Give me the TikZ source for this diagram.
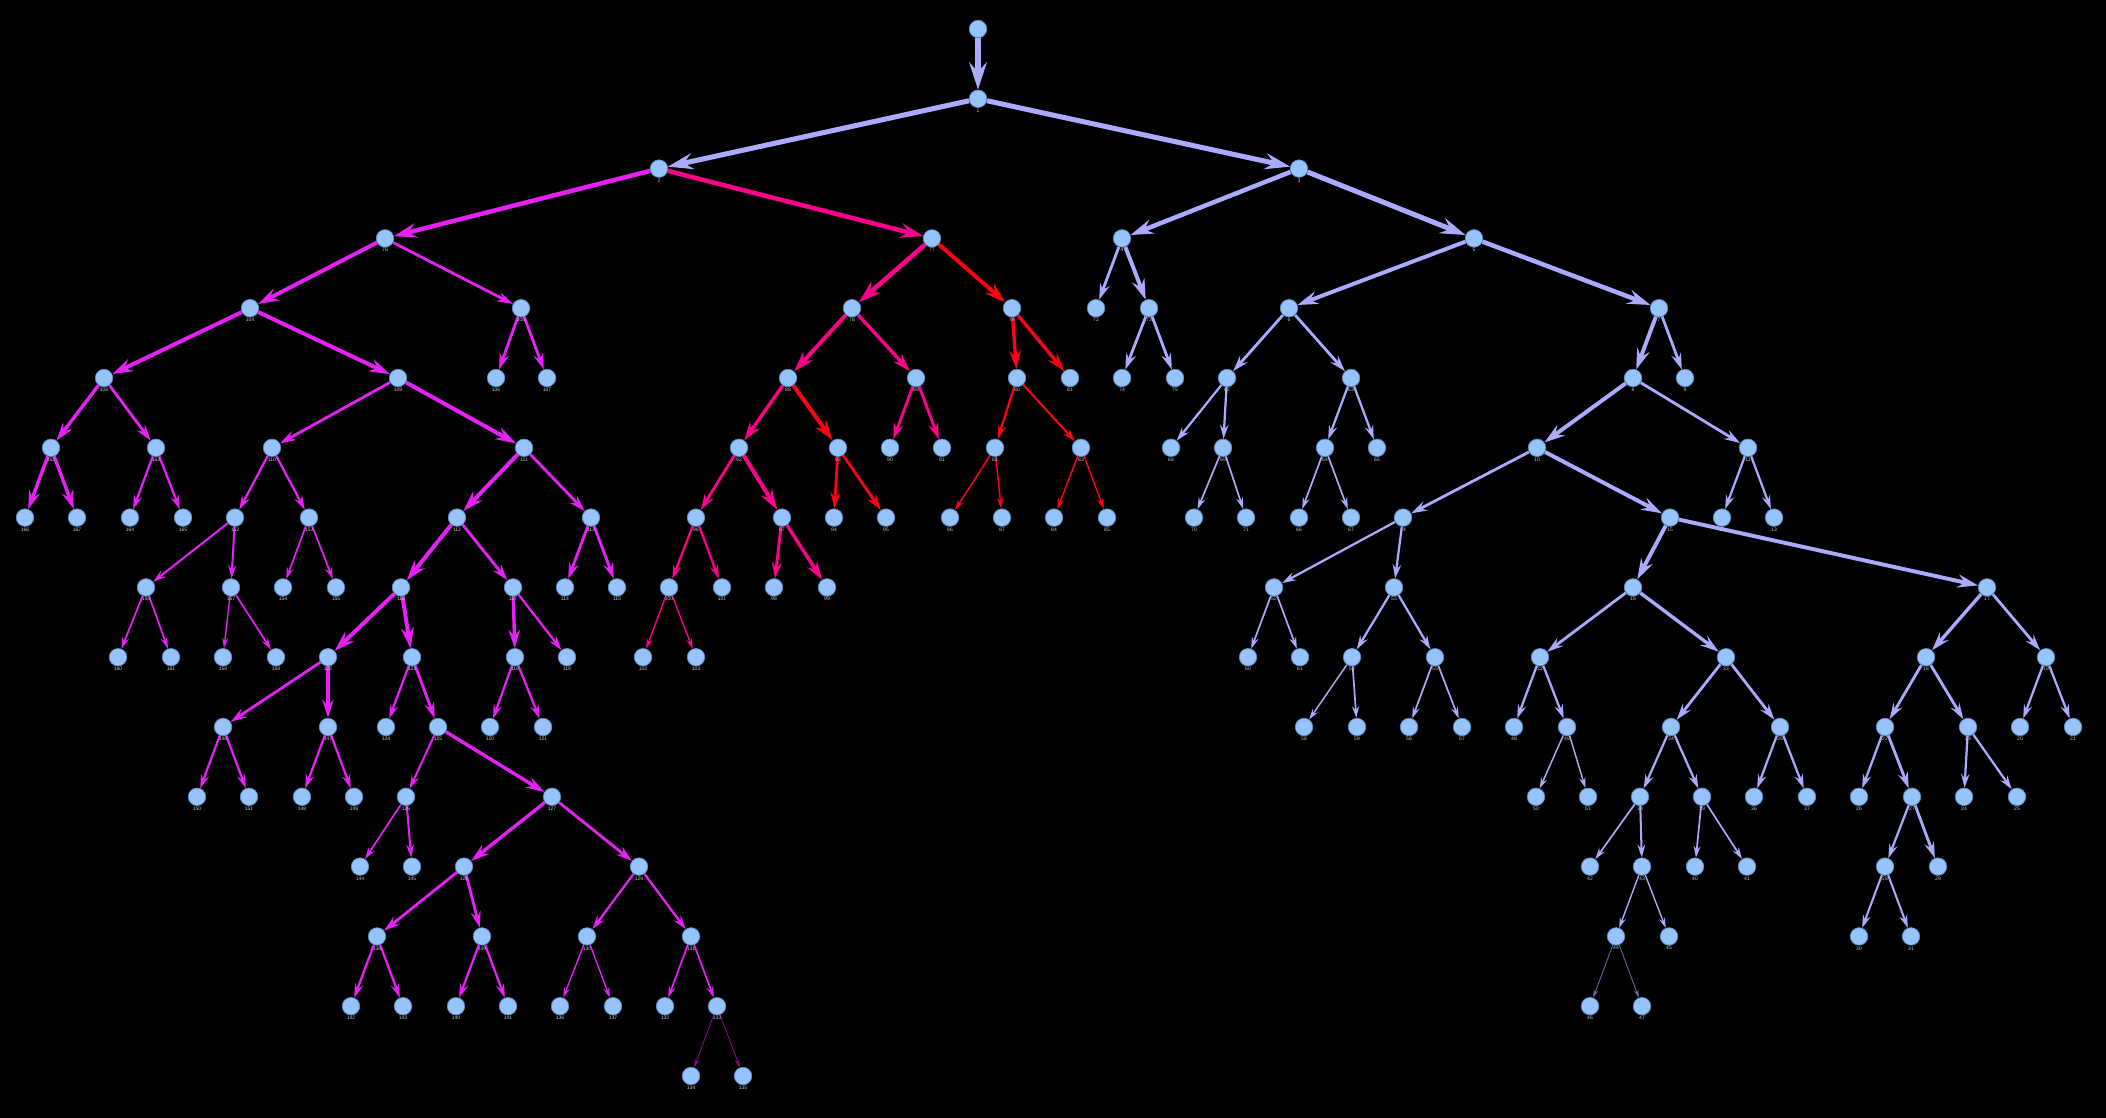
\documentclass[tikz,border=0pt]{standalone}
\usepackage{fontspec}
\newfontfamily\lblfont{Liberation Sans}
\usetikzlibrary{arrows.meta}
\definecolor{cL}{RGB}{170,170,255}
\definecolor{cDL}{RGB}{105,105,170}
\definecolor{cM}{RGB}{232,32,248}
\definecolor{cDM}{RGB}{130,10,140}
\definecolor{cP}{RGB}{255,0,140}
\definecolor{cR}{RGB}{255,0,20}
\definecolor{vfill}{RGB}{150,196,250}
\definecolor{vline}{RGB}{90,140,200}
\definecolor{lblc}{RGB}{200,200,200}
\pgfdeclarelayer{back}
\pgfdeclarelayer{bg}
\pgfsetlayers{back,bg,main}
\tikzset{
  vtx/.style={circle, fill=vfill, draw=vline, line width=0.7pt, minimum size=17.5pt, inner sep=0pt},
  lbl/.style={font=\lblfont\fontsize{5}{5}\selectfont, text=lblc, inner sep=0pt, label distance=0.8pt},
  edgearrow/.style={-{Stealth[length=5pt 4, width=2.5pt 2.7, inset=1.8pt 1.4]}}
}
\begin{document}
\begin{tikzpicture}[x=1pt,y=-1pt]
\useasboundingbox (0,0) rectangle (2106,1118);
\begin{pgfonlayer}{back}
\fill[black] (0,0) rectangle (2106,1118);
\end{pgfonlayer}
\foreach \n/\x/\d in {
0/978/0, 1/978/1, 2/659/2, 3/1299/2,
76/385/3, 77/932/3, 4/1122/3, 5/1474/3,
104/250/4, 105/521/4, 78/852/4, 79/1012/4, 72/1096/4, 73/1149/4, 6/1289/4, 7/1659/4,
108/104/5, 109/398/5, 106/496/5, 107/547/5, 88/788/5, 89/916/5, 80/1017/5, 81/1070/5, 74/1122/5, 75/1175/5, 62/1227/5, 63/1351/5, 8/1633/5, 9/1685/5,
162/51/6, 163/156/6, 110/272/6, 111/524/6, 92/739/6, 93/838/6, 90/890/6, 91/942/6, 82/995/6, 83/1081/6, 68/1171/6, 69/1223/6, 64/1325/6, 65/1377/6, 10/1537/6, 11/1748/6,
166/25/7, 167/77/7, 164/130/7, 165/183/7, 152/235/7, 153/309/7, 112/457/7, 113/591/7, 96/696/7, 97/782/7, 94/834/7, 95/886/7, 86/950/7, 87/1002/7, 84/1054/7, 85/1107/7, 70/1194/7, 71/1246/7, 66/1299/7, 67/1351/7, 14/1403/7, 15/1670/7, 12/1722/7, 13/1774/7,
156/146/8, 157/231/8, 154/283/8, 155/336/8, 116/401/8, 117/513/8, 114/565/8, 115/617/8, 100/669/8, 101/722/8, 98/774/8, 99/827/8, 52/1274/8, 53/1394/8, 16/1633/8, 17/1987/8,
160/118/9, 161/171/9, 158/223/9, 159/276/9, 122/328/9, 123/412/9, 118/515/9, 119/567/9, 102/643/9, 103/696/9, 60/1248/9, 61/1300/9, 54/1352/9, 55/1435/9, 32/1540/9, 33/1726/9, 18/1926/9, 19/2046/9,
146/223/10, 147/328/10, 124/386/10, 125/438/10, 120/490/10, 121/543/10, 58/1304/10, 59/1357/10, 56/1409/10, 57/1462/10, 48/1514/10, 49/1567/10, 34/1671/10, 35/1780/10, 22/1885/10, 23/1968/10, 20/2020/10, 21/2073/10,
150/197/11, 151/249/11, 148/302/11, 149/354/11, 126/406/11, 127/552/11, 50/1536/11, 51/1588/11, 38/1640/11, 39/1702/11, 36/1754/11, 37/1807/11, 26/1859/11, 27/1912/11, 24/1964/11, 25/2017/11,
144/360/12, 145/412/12, 128/464/12, 129/639/12, 42/1590/12, 43/1642/12, 40/1695/12, 41/1747/12, 28/1885/12, 29/1938/12,
138/377/13, 139/482/13, 130/587/13, 131/691/13, 44/1616/13, 45/1669/13, 30/1859/13, 31/1911/13,
142/351/14, 143/403/14, 140/456/14, 141/508/14, 136/560/14, 137/613/14, 132/665/14, 133/717/14, 46/1590/14, 47/1642/14,
134/691/15, 135/743/15}
  \node[vtx, label={[lbl]below:\n}] (n\n) at (\x, {29+69.8*\d}) {};
\begin{pgfonlayer}{bg}
\foreach \a/\b/\w/\c [evaluate=\w as \ww using \w*1.12] in {
0/1/5/cL, 1/2/4.5/cL, 1/3/4.5/cL, 3/4/4/cL, 3/5/4.5/cL, 4/72/2.5/cL, 4/73/3.5/cL, 73/74/2.5/cL, 73/75/2.5/cL,
5/6/3.5/cL, 5/7/4/cL, 6/62/2.5/cL, 6/63/2.5/cL, 62/68/2/cL, 62/69/2/cL, 69/70/1.5/cL, 69/71/1.5/cL,
63/64/2/cL, 63/65/2/cL, 64/66/1.5/cL, 64/67/1.5/cL, 7/8/3.5/cL, 7/9/2.5/cL, 8/10/3.5/cL, 8/11/2.5/cL,
11/12/2/cL, 11/13/2/cL, 10/14/2.5/cL, 10/15/3.5/cL, 14/52/2/cL, 14/53/2/cL, 52/60/1.5/cL, 52/61/1.5/cL,
53/54/2/cL, 53/55/2/cL, 54/58/1.3/cL, 54/59/1.5/cL, 55/56/1.5/cL, 55/57/1.5/cL, 15/16/3.5/cL, 15/17/3.5/cL,
16/32/2.5/cL, 16/33/3/cL, 32/48/2/cL, 32/49/2/cL, 49/50/1.3/cL, 49/51/1.3/cL, 33/34/2.5/cL, 33/35/2.5/cL,
34/38/2/cL, 34/39/2/cL, 35/36/2/cL, 35/37/2/cL, 38/42/1.5/cL, 38/43/1.8/cL, 39/40/1.5/cL, 39/41/1.5/cL,
43/44/1.2/cL, 43/45/1.2/cL, 17/18/3/cL, 17/19/2.5/cL, 18/22/2.5/cL, 18/23/2.5/cL, 19/20/2/cL, 19/21/2/cL,
22/26/2/cL, 22/27/2.5/cL, 23/24/2/cL, 23/25/2/cL, 27/28/2/cL, 27/29/2.5/cL, 28/30/1.8/cL, 28/31/1.8/cL,
44/46/0.7/cDL, 44/47/0.7/cDL,
2/76/4/cM, 76/104/3.5/cM, 76/105/2.5/cM, 105/106/2.5/cM, 105/107/2.5/cM, 104/108/3.5/cM, 104/109/3.5/cM,
108/162/3/cM, 108/163/2.5/cM, 162/166/3/cM, 162/167/3/cM, 163/164/2/cM, 163/165/2/cM, 109/110/2.5/cM, 109/111/3.5/cM,
110/152/2/cM, 110/153/2/cM, 152/156/1.8/cM, 152/157/1.8/cM, 156/160/1.5/cM, 156/161/1.5/cM, 157/158/1.2/cM, 157/159/1.5/cM,
153/154/1.5/cM, 153/155/1.5/cM, 111/112/3.5/cM, 111/113/2.5/cM, 112/116/3.5/cM, 112/117/2.5/cM, 113/114/2.5/cM, 113/115/2.5/cM,
116/122/3.5/cM, 116/123/3.5/cM, 117/118/3/cM, 117/119/2/cM, 118/120/2/cM, 118/121/2/cM, 122/146/2.5/cM, 122/147/3/cM,
146/150/2/cM, 146/151/2/cM, 147/148/2/cM, 147/149/2/cM, 123/124/2/cM, 123/125/2.5/cM, 125/126/1.8/cM, 125/127/3/cM,
126/144/1.5/cM, 126/145/1.8/cM, 127/128/3/cM, 127/129/2.5/cM, 128/138/2.5/cM, 128/139/2.5/cM, 138/142/2/cM, 138/143/2/cM,
139/140/2/cM, 139/141/2/cM, 129/130/2/cM, 129/131/2/cM, 130/136/1.2/cM, 130/137/1.2/cM, 131/132/1.5/cM, 131/133/1.5/cM,
133/134/0.8/cDM, 133/135/0.8/cDM,
2/77/4/cP, 77/78/4/cP, 78/88/3.5/cP, 78/89/3/cP, 88/92/3/cP, 89/90/2.5/cP, 89/91/2.5/cP, 92/96/2.5/cP, 92/97/3.5/cP,
96/100/2/cP, 96/101/2/cP, 97/98/2.5/cP, 97/99/3/cP, 100/102/1.2/cP, 100/103/1.2/cP,
77/79/3.5/cR, 79/80/3/cR, 79/81/3/cR, 80/82/2/cR, 80/83/1.8/cR, 82/86/1.3/cR, 82/87/1.3/cR, 83/84/1.3/cR, 83/85/1.3/cR,
88/93/3.5/cR, 93/94/2.5/cR, 93/95/2.5/cR}
  \draw[edgearrow, line width=\ww pt, draw=\c, fill=\c] (n\a) -- (n\b);
\end{pgfonlayer}
\end{tikzpicture}
\end{document}
